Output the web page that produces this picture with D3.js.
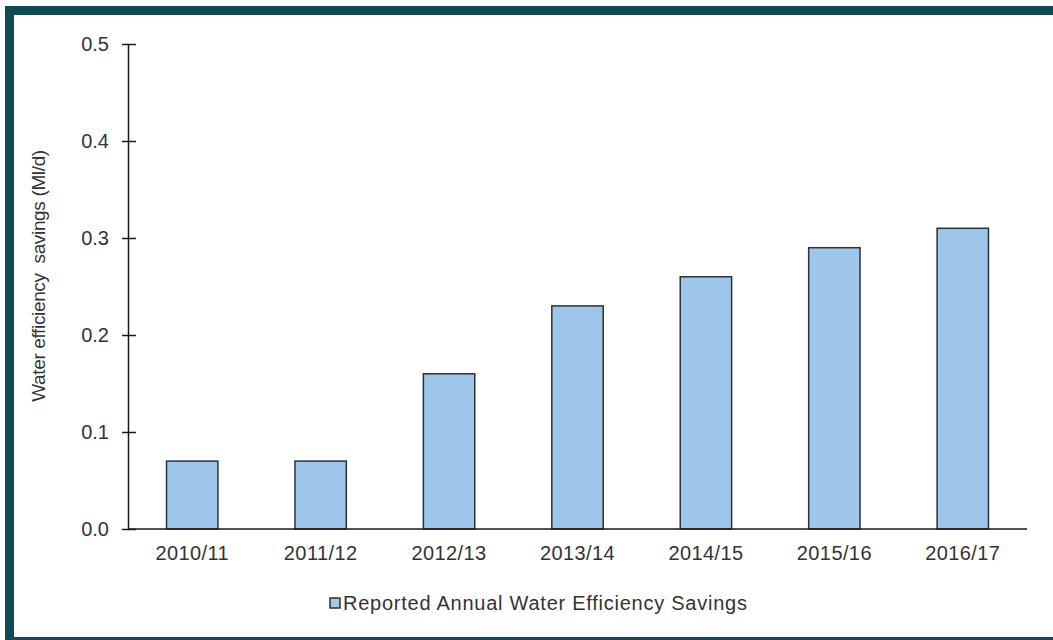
<!DOCTYPE html>
<html>
<head>
<meta charset="utf-8">
<script src="https://cdn.jsdelivr.net/npm/d3@7"></script>
<style>
  html, body { margin: 0; padding: 0; background: #ffffff; }
  svg { display: block; }
  text { font-family: "Liberation Sans", Arial, sans-serif; fill: #333333; }
</style>
</head>
<body>
<svg id="chart" width="1053" height="640"></svg>
<script>
// Reported annual water efficiency savings by reporting year
const years = ["2010/11", "2011/12", "2012/13", "2013/14", "2014/15", "2015/16", "2016/17"];
const savings = [0.07, 0.07, 0.16, 0.23, 0.26, 0.29, 0.31];
const yTicks = [0.0, 0.1, 0.2, 0.3, 0.4, 0.5];
const seriesName = "Reported Annual Water Efficiency Savings";
const yTitle = "Water efficiency  savings (Ml/d)";

const svg = d3.select("#chart");
const W = 1053, H = 640;

// white page with a dark teal frame
svg.append("rect").attr("width", W).attr("height", H).attr("fill", "#ffffff");
svg.append("rect")
  .attr("x", 9.5).attr("y", 10.5)
  .attr("width", W + 40).attr("height", 631)
  .attr("fill", "none")
  .attr("stroke", "#0e4b55")
  .attr("stroke-width", 9);

const plot = { left: 128, right: 1027, top: 44, bottom: 529 };

const x = d3.scaleBand()
  .domain(years)
  .range([plot.left, plot.right])
  .paddingInner(0.6)
  .paddingOuter(0.3);

const y = d3.scaleLinear()
  .domain([0, 0.5])
  .range([plot.bottom, plot.top]);

// bars
svg.append("g")
  .selectAll("rect")
  .data(years.map((c, i) => ({ c, v: savings[i] })))
  .join("rect")
  .attr("x", d => x(d.c))
  .attr("y", d => y(d.v))
  .attr("width", x.bandwidth())
  .attr("height", d => y(0) - y(d.v))
  .attr("fill", "#9dc6ea")
  .attr("stroke", "#2b313b")
  .attr("stroke-width", 1.5);

// y axis with ticks crossing the axis line
const yAxis = svg.append("g")
  .attr("transform", `translate(${plot.left},0)`)
  .call(d3.axisLeft(y).tickValues(yTicks).tickFormat(d3.format(".1f")).tickSizeOuter(0).tickSizeInner(6).tickPadding(13));
yAxis.select(".domain").attr("stroke", "#1a1a1a").attr("stroke-width", 1.5);
yAxis.selectAll(".tick line").attr("x1", -6).attr("x2", 8).attr("stroke", "#1a1a1a").attr("stroke-width", 1.5);
yAxis.selectAll(".tick text")
  .style("font-family", "'Liberation Sans', Arial, sans-serif")
  .style("font-size", "20px")
  .attr("fill", "#333333");

// x axis baseline and category labels
const xAxis = svg.append("g")
  .attr("transform", `translate(0,${plot.bottom})`)
  .call(d3.axisBottom(x).tickSize(0).tickPadding(17));
xAxis.select(".domain").attr("stroke", "#1a1a1a").attr("stroke-width", 1.5)
  .attr("d", `M${plot.left},0H${plot.right}`);
xAxis.selectAll(".tick text")
  .style("font-family", "'Liberation Sans', Arial, sans-serif")
  .style("font-size", "20px")
  .style("letter-spacing", "0.4px")
  .attr("fill", "#333333");

// y axis title
svg.append("text")
  .attr("transform", `translate(45,276) rotate(-90)`)
  .attr("text-anchor", "middle")
  .style("font-size", "19px")
  .style("letter-spacing", "-0.35px")
  .style("white-space", "pre")
  .text(yTitle);

// legend
const legend = svg.append("g").attr("transform", "translate(330,598)");
legend.append("rect")
  .attr("width", 10).attr("height", 10)
  .attr("fill", "#a9c8dc")
  .attr("stroke", "#2b313b")
  .attr("stroke-width", 1.5);
legend.append("text")
  .attr("x", 13).attr("y", 12)
  .style("font-size", "20px")
  .style("letter-spacing", "0.75px")
  .text(seriesName);
</script>
</body>
</html>
